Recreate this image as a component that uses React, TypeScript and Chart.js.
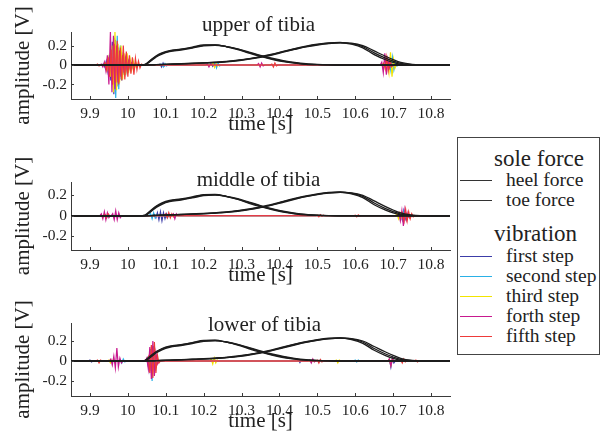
import React, { useEffect, useRef } from "react";
import { Chart, registerables } from "chart.js";

Chart.register(...registerables);

const SERIF = "'Liberation Serif', 'Times New Roman', Times, serif";
const AXIS = "#3a3a3a";
const INK = "#222222";

// ---------- axes ----------
const xRange = [9.85, 10.85];
const xTicks = [9.9, 10, 10.1, 10.2, 10.3, 10.4, 10.5, 10.6, 10.7, 10.8];
const xTickLabels = ["9.9", "10", "10.1", "10.2", "10.3", "10.4", "10.5", "10.6", "10.7", "10.8"];
const yTicks = [-0.2, 0, 0.2];
const yTickLabels = ["-0.2", "0", "0.2"];

// ---------- legend / series names ----------
const forceNames = ["heel force", "toe force"];
const stepNames = ["first step", "second step", "third step", "forth step", "fifth step"];
const stepColors = ["#3c3ca8", "#2ab0e6", "#f2e400", "#c8198f", "#ee3a3a"];
const forceColor = "#1c1c1c";

// ---------- sole force (three overlapping recordings) ----------
const forceTimes = [9.85, 10.0, 10.03, 10.045, 10.06, 10.075, 10.09, 10.11, 10.14, 10.17, 10.2, 10.23, 10.26, 10.29, 10.32, 10.35, 10.38, 10.41, 10.44, 10.47, 10.5, 10.53, 10.56, 10.59, 10.62, 10.65, 10.68, 10.7, 10.72, 10.75, 10.8, 10.85];
const heelForceA = [0, 0, 0, 0.004, 0.045, 0.09, 0.12, 0.144, 0.16, 0.18, 0.203, 0.206, 0.19, 0.163, 0.128, 0.094, 0.064, 0.04, 0.022, 0.01, 0.004, 0.001, 0, 0, 0, 0, 0, 0, 0, 0, 0, 0];
const heelForceB = [0, 0, 0, 0.002, 0.038, 0.082, 0.112, 0.137, 0.154, 0.174, 0.197, 0.202, 0.19, 0.167, 0.134, 0.1, 0.07, 0.045, 0.026, 0.013, 0.006, 0.002, 0, 0, 0, 0, 0, 0, 0, 0, 0, 0];
const heelForceC = [0, 0, 0, 0.007, 0.052, 0.095, 0.125, 0.149, 0.164, 0.184, 0.207, 0.208, 0.188, 0.159, 0.122, 0.088, 0.059, 0.035, 0.019, 0.008, 0.003, 0.001, 0, 0, 0, 0, 0, 0, 0, 0, 0, 0];
const toeForceA = [0, 0, 0, 0, 0.001, 0.003, 0.005, 0.008, 0.012, 0.016, 0.021, 0.027, 0.035, 0.047, 0.063, 0.083, 0.107, 0.137, 0.165, 0.19, 0.21, 0.224, 0.23, 0.22, 0.19, 0.125, 0.07, 0.04, 0.016, 0.003, 0, 0];
const toeForceB = [0, 0, 0, 0, 0.001, 0.003, 0.005, 0.007, 0.011, 0.015, 0.019, 0.025, 0.033, 0.044, 0.06, 0.08, 0.103, 0.132, 0.16, 0.186, 0.206, 0.221, 0.228, 0.224, 0.2, 0.145, 0.09, 0.056, 0.027, 0.007, 0, 0];
const toeForceC = [0, 0, 0, 0, 0.001, 0.004, 0.006, 0.009, 0.013, 0.018, 0.023, 0.029, 0.037, 0.05, 0.066, 0.087, 0.111, 0.141, 0.169, 0.194, 0.214, 0.228, 0.232, 0.214, 0.177, 0.107, 0.054, 0.027, 0.008, 0.001, 0, 0];

// ---------- vibration bursts: [start time, samples] ----------
const sampleInterval = 0.004;

const upperFirst = [
  [9.935, [0.01, -0.02, 0.04, -0.06, 0.1, -0.16, 0.24, -0.3, 0.26, -0.22, 0.18, -0.15, 0.12, -0.1, 0.08, -0.07, 0.05, -0.04, 0.03, -0.03, 0.02, -0.01]],
  [10.085, [0.01, -0.02, 0.02, -0.01]],
  [10.22, [0.01, -0.015, 0.01]],
  [10.69, [0.01, -0.02, 0.01]],
];
const upperSecond = [
  [9.94, [0.02, -0.03, 0.05, -0.08, 0.14, -0.2, 0.28, -0.34, 0.3, -0.25, 0.2, -0.16, 0.13, -0.1, 0.08, -0.06, 0.05, -0.04, 0.03, -0.02, 0.01]],
  [10.09, [0.01, -0.02, 0.015, -0.01]],
  [10.23, [0.02, -0.03, 0.02, -0.01]],
  [10.69, [0.03, -0.06, 0.08, -0.05, 0.03, -0.01]],
];
const upperThird = [
  [9.942, [0.02, -0.04, 0.07, -0.12, 0.2, -0.28, 0.34, -0.26, 0.22, -0.18, 0.2, -0.15, 0.12, -0.1, 0.12, -0.08, 0.06, -0.05, 0.04, -0.03, 0.02, -0.01]],
  [10.225, [0.02, -0.025, 0.015, -0.01]],
  [10.685, [0.04, -0.08, 0.13, -0.12, 0.06, -0.03, 0.01]],
];
const upperForth = [
  [9.93, [0.01, -0.02, 0.03, -0.06, 0.1, -0.2, 0.34, -0.28, 0.3, -0.25, 0.2, -0.18, 0.15, -0.12, 0.1, -0.08, 0.07, -0.05, 0.04, -0.03, 0.02, -0.01]],
  [10.21, [0.01, -0.02, 0.01]],
  [10.345, [0.015, -0.02, 0.02, -0.01]],
  [10.67, [0.03, -0.08, 0.12, -0.1, 0.06, -0.03, 0.02, -0.01]],
];
const upperFifth = [
  [9.92, [0.01, -0.01]],
  [9.94, [0.02, -0.05, 0.08, -0.12, 0.16, -0.2, 0.22, -0.18, 0.25, -0.2, 0.18, -0.16, 0.2, -0.15, 0.14, -0.12, 0.1, -0.09, 0.08, -0.1, 0.07, -0.05, 0.04, -0.03, 0.01]],
  [10.38, [0.01, -0.02, 0.02, -0.01]],
  [10.675, [0.02, -0.04, 0.08, -0.06, 0.04, -0.02]],
];

const middleFirst = [
  [10.07, [0.01, -0.02, 0.03, -0.04, 0.04, -0.05, 0.03, -0.03, 0.02, -0.01]],
  [10.72, [0.02, -0.04, 0.05, -0.03, 0.02, -0.01]],
];
const middleSecond = [
  [9.94, [0.01, -0.02, 0.01]],
  [10.06, [0.02, -0.03, 0.03, -0.02, 0.01]],
  [10.1, [0.01, -0.02, 0.02, -0.01]],
  [10.72, [0.02, -0.03, 0.04, -0.02, 0.01]],
];
const middleThird = [
  [9.93, [0.01, -0.02, 0.02, -0.01]],
  [10.71, [0.02, -0.03, 0.03, -0.02, 0.01]],
];
const middleForth = [
  [9.93, [0.02, -0.03, 0.04, -0.04, 0.03, -0.02]],
  [9.96, [0.02, -0.04, 0.05, -0.04, 0.03, -0.02]],
  [10.12, [0.02, -0.03, 0.02]],
  [10.715, [0.03, -0.05, 0.05, -0.1, 0.06, -0.04, 0.03, -0.02]],
];
const middleFifth = [
  [9.94, [0.01, -0.02, 0.02]],
  [10.1, [0.02, -0.02, 0.03, -0.02, 0.02, -0.01, 0.01]],
  [10.5, [0.005, -0.01, 0.01, -0.005, 0.005]],
  [10.6, [0.005, -0.01, 0.008, -0.005]],
  [10.725, [0.03, -0.05, 0.06, -0.05, 0.04, -0.03, 0.02, -0.01]],
];

const lowerFirst = [
  [9.9, [0.01, -0.01]],
  [10.05, [0.02, -0.05, 0.08, -0.1, 0.07, -0.05, 0.03]],
  [10.45, [0.01, -0.015, 0.01]],
  [10.69, [0.02, -0.06, 0.03, -0.02]],
];
const lowerSecond = [
  [9.98, [0.01, -0.02, 0.02, -0.01]],
  [10.052, [0.03, -0.08, 0.12, -0.2, 0.15, -0.1, 0.05]],
  [10.6, [0.01, -0.01, 0.01]],
];
const lowerThird = [
  [9.95, [0.01, -0.02, 0.01]],
  [10.22, [0.02, -0.03, 0.03, -0.02, 0.01]],
  [10.55, [0.01, -0.02, 0.01]],
  [10.69, [0.02, -0.04, 0.02]],
];
const lowerForth = [
  [9.955, [0.02, -0.04, 0.05, -0.07, 0.13, -0.06, 0.03, -0.02]],
  [10.05, [0.03, -0.08, 0.14, -0.18, 0.2, -0.15, 0.08, -0.03]],
  [10.48, [0.01, -0.02, 0.02, -0.01]],
  [10.69, [0.02, -0.05, 0.02]],
];
const lowerFifth = [
  [9.92, [0.01, -0.02, 0.01]],
  [10.054, [0.04, -0.12, 0.16, -0.17, 0.19, -0.12, 0.06, -0.02]],
  [10.5, [0.01, -0.02, 0.015, -0.01]],
  [10.72, [0.01, -0.02, 0.02, -0.01]],
  [10.76, [0.01, -0.01]],
];

type Burst = [number, number[]];

function burstPoints(bursts: Burst[]) {
  const pts: { x: number; y: number }[] = [{ x: xRange[0], y: 0 }];
  const sorted = [...bursts].sort((a, b) => a[0] - b[0]);
  for (const [t0, vals] of sorted) {
    pts.push({ x: t0 - sampleInterval, y: 0 });
    vals.forEach((v, i) => pts.push({ x: t0 + i * sampleInterval, y: v }));
    pts.push({ x: t0 + vals.length * sampleInterval, y: 0 });
  }
  pts.push({ x: xRange[1], y: 0 });
  return pts;
}

function forcePoints(values: number[]) {
  return forceTimes.map((t, i) => ({ x: t, y: values[i] }));
}

const inwardTicks = {
  id: "inwardTicks",
  afterDraw(chart: any) {
    const { ctx, chartArea, scales } = chart;
    const x = scales.x;
    const y = scales.y;
    ctx.save();
    ctx.strokeStyle = AXIS;
    ctx.lineWidth = 1;
    x.ticks.forEach((t: any) => {
      const px = Math.round(x.getPixelForValue(t.value)) + 0.5;
      ctx.beginPath();
      ctx.moveTo(px, chartArea.bottom);
      ctx.lineTo(px, chartArea.bottom - 3);
      ctx.stroke();
    });
    y.ticks.forEach((t: any) => {
      const py = Math.round(y.getPixelForValue(t.value)) + 0.5;
      ctx.beginPath();
      ctx.moveTo(chartArea.left, py);
      ctx.lineTo(chartArea.left + 3, py);
      ctx.stroke();
    });
    ctx.restore();
  },
};

const plotTitle = {
  id: "plotTitle",
  afterDraw(chart: any, _args: any, opts: any) {
    const { ctx, chartArea } = chart;
    ctx.save();
    ctx.font = `21px ${SERIF}`;
    ctx.fillStyle = INK;
    ctx.textAlign = "center";
    ctx.textBaseline = "alphabetic";
    ctx.fillText(opts.text, (chartArea.left + chartArea.right) / 2 + (opts.dx || 0), opts.baseline);
    ctx.restore();
  },
};

const CANVAS_W = 456;
const Y_AXIS_W = 71;
const X_AXIS_H = 38;

type PlotProps = {
  title: string;
  titleBaseline: number;
  titleDx?: number;
  steps: Burst[][];
  canvasTop: number;
  chartTop: number;
  chartBottom: number;
  yMin: number;
  yMax: number;
};

function Plot({ title, titleBaseline, titleDx, steps, canvasTop, chartTop, chartBottom, yMin, yMax }: PlotProps) {
  const ref = useRef<HTMLCanvasElement>(null);
  const canvasH = chartBottom + X_AXIS_H - canvasTop;
  useEffect(() => {
    if (!ref.current) return;
    const datasets: any[] = [];
    [heelForceA, heelForceB, heelForceC].forEach((v) =>
      datasets.push({ label: forceNames[0], data: forcePoints(v), borderColor: forceColor, borderWidth: 1.3, pointRadius: 0, cubicInterpolationMode: "monotone", order: 0 })
    );
    [toeForceA, toeForceB, toeForceC].forEach((v) =>
      datasets.push({ label: forceNames[1], data: forcePoints(v), borderColor: forceColor, borderWidth: 1.3, pointRadius: 0, cubicInterpolationMode: "monotone", order: 0 })
    );
    steps.forEach((bursts, k) =>
      datasets.push({ label: stepNames[k], data: burstPoints(bursts), borderColor: stepColors[k], borderWidth: 1.2, pointRadius: 0, tension: 0, order: 5 - k })
    );
    const chart = new Chart(ref.current, {
      type: "line",
      data: { datasets },
      plugins: [inwardTicks, plotTitle],
      options: {
        animation: false,
        responsive: false,
        maintainAspectRatio: false,
        events: [],
        layout: { padding: { top: chartTop - canvasTop, right: CANVAS_W - 450, left: 0, bottom: 0 } },
        plugins: {
          legend: { display: false },
          tooltip: { enabled: false },
          title: { display: false },
          plotTitle: { text: title, baseline: titleBaseline - canvasTop, dx: titleDx || 0 },
        } as any,
        scales: {
          x: {
            type: "linear",
            min: xRange[0],
            max: xRange[1],
            afterBuildTicks: (s: any) => {
              s.ticks = xTicks.map((v) => ({ value: v }));
            },
            afterFit: (s: any) => {
              s.height = X_AXIS_H;
            },
            grid: { display: false, drawTicks: false },
            border: { display: true, color: AXIS, width: 1 },
            ticks: {
              autoSkip: false,
              maxRotation: 0,
              padding: 6,
              color: INK,
              font: { family: SERIF, size: 15.5 },
              callback: (_v: any, i: number) => xTickLabels[i],
            },
            title: { display: true, text: "time [s]", color: INK, font: { family: SERIF, size: 21 }, padding: { top: 0, bottom: 0 } },
          },
          y: {
            type: "linear",
            min: yMin,
            max: yMax,
            afterBuildTicks: (s: any) => {
              s.ticks = yTicks.map((v) => ({ value: v }));
            },
            afterFit: (s: any) => {
              s.width = Y_AXIS_W;
            },
            grid: { display: false, drawTicks: false },
            border: { display: true, color: AXIS, width: 1 },
            ticks: {
              autoSkip: false,
              padding: 4,
              color: INK,
              font: { family: SERIF, size: 15.5 },
              callback: (_v: any, i: number) => yTickLabels[i],
            },
            title: { display: true, text: "amplitude [V]", color: INK, font: { family: SERIF, size: 21 }, padding: { top: 11, bottom: 0 } },
          },
        },
      } as any,
    });
    return () => chart.destroy();
  }, []);
  return (
    <canvas
      ref={ref}
      width={CANVAS_W}
      height={canvasH}
      style={{ position: "absolute", left: 0, top: canvasTop, width: CANVAS_W, height: canvasH }}
    />
  );
}

function Legend() {
  const text = (s: string, left: number, baseline: number, size: number) => (
    <div
      key={s}
      style={{
        position: "absolute",
        left,
        top: baseline - 0.8375 * size,
        fontFamily: SERIF,
        fontSize: size,
        lineHeight: `${size}px`,
        color: INK,
        whiteSpace: "nowrap",
      }}
    >
      {s}
    </div>
  );
  const line = (key: string, y: number, color: string) => (
    <div
      key={key}
      style={{ position: "absolute", left: 460, width: 32, top: y - 0.75, height: 0, borderTop: `1.5px solid ${color}` }}
    />
  );
  const forceRows = [181, 201];
  const stepRows = [257, 277, 297, 317, 337];
  return (
    <>
      <div style={{ position: "absolute", left: 457, top: 137, width: 141, height: 216, border: "1px solid #444" }} />
      {text("sole force", 494, 166.5, 23)}
      {forceNames.map((n, i) => [line("fl" + i, forceRows[i], "#333"), text(n, 506, forceRows[i] + 5.5, 19.5)])}
      {text("vibration", 494, 241.5, 23)}
      {stepNames.map((n, i) => [line("sl" + i, stepRows[i], stepColors[i]), text(n, 506, stepRows[i] + 5.5, 19.5)])}
    </>
  );
}

export default function App() {
  return (
    <div style={{ position: "absolute", left: 0, top: 0, width: 604, height: 436, background: "#fff", overflow: "hidden" }}>
      <Plot
        title="upper of tibia"
        titleBaseline={31}
        titleDx={-2}
        steps={[upperFirst, upperSecond, upperThird, upperForth, upperFifth] as Burst[][]}
        canvasTop={0}
        chartTop={32}
        chartBottom={99}
        yMin={-0.35}
        yMax={0.34}
      />
      <Plot
        title="middle of tibia"
        titleBaseline={186}
        titleDx={-2}
        steps={[middleFirst, middleSecond, middleThird, middleForth, middleFifth] as Burst[][]}
        canvasTop={140}
        chartTop={182}
        chartBottom={250}
        yMin={-0.335}
        yMax={0.33}
      />
      <Plot
        title="lower of tibia"
        titleBaseline={331}
        titleDx={4}
        steps={[lowerFirst, lowerSecond, lowerThird, lowerForth, lowerFifth] as Burst[][]}
        canvasTop={290}
        chartTop={323}
        chartBottom={396}
        yMin={-0.35}
        yMax={0.38}
      />
      <Legend />
    </div>
  );
}
